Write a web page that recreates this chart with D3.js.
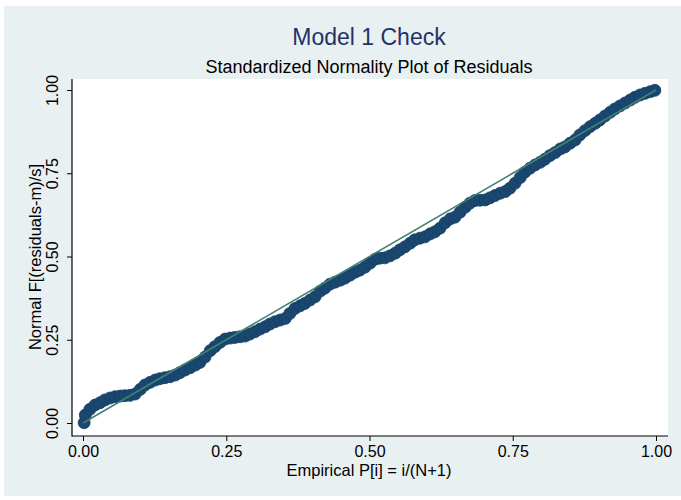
<!DOCTYPE html>
<html>
<head>
<meta charset="utf-8">
<script src="https://cdn.jsdelivr.net/npm/d3@7"></script>
<style>
  body { margin: 0; background: #ffffff; }
  text { font-family: "Liberation Sans", Arial, sans-serif; }
</style>
</head>
<body>
<script>
// empirical P[i] = i/(N+1)
var empP = [0.002,0.004,0.012,0.021,0.030,0.038,0.047,0.056,0.065,0.073,0.082,0.091,0.100,0.108,0.117,0.126,0.134,0.143,0.152,0.161,
            0.169,0.178,0.187,0.196,0.204,0.213,0.222,0.230,0.239,0.248,0.257,0.265,0.274,0.283,0.291,0.300,0.309,0.318,0.326,0.335,
            0.344,0.353,0.361,0.370,0.379,0.387,0.396,0.405,0.414,0.422,0.431,0.440,0.449,0.457,0.466,0.475,0.483,0.492,0.501,0.510,
            0.518,0.527,0.536,0.545,0.553,0.562,0.571,0.579,0.588,0.597,0.606,0.614,0.623,0.632,0.641,0.649,0.658,0.667,0.675,0.684,
            0.693,0.702,0.710,0.719,0.728,0.737,0.745,0.754,0.763,0.771,0.780,0.789,0.798,0.806,0.815,0.824,0.833,0.841,0.850,0.859,
            0.867,0.876,0.885,0.894,0.902,0.911,0.920,0.928,0.937,0.946,0.955,0.963,0.972,0.981,0.990,0.998];
// Normal F[(residuals-m)/s]
var normF = [0.001,0.024,0.041,0.054,0.061,0.069,0.075,0.079,0.081,0.082,0.083,0.087,0.101,0.114,0.122,0.129,0.133,0.136,0.139,0.144,
             0.151,0.159,0.166,0.174,0.182,0.198,0.217,0.229,0.242,0.252,0.255,0.257,0.259,0.261,0.267,0.274,0.282,0.289,0.297,0.304,
             0.309,0.314,0.329,0.344,0.352,0.359,0.369,0.379,0.396,0.405,0.417,0.423,0.429,0.435,0.444,0.453,0.459,0.468,0.480,0.492,
             0.495,0.496,0.502,0.510,0.520,0.529,0.540,0.550,0.555,0.559,0.568,0.574,0.585,0.601,0.613,0.618,0.633,0.648,0.660,0.668,
             0.669,0.670,0.676,0.683,0.690,0.695,0.705,0.720,0.737,0.753,0.765,0.775,0.783,0.792,0.803,0.812,0.823,0.829,0.840,0.850,
             0.865,0.878,0.890,0.900,0.910,0.922,0.933,0.943,0.952,0.961,0.970,0.978,0.985,0.990,0.995,0.999];
var tickVals = [0, 0.25, 0.5, 0.75, 1];

var width = 681, height = 500;
var plot = {left: 72, right: 668, top: 79, bottom: 436};

var svg = d3.select("body").append("svg")
    .attr("width", width)
    .attr("height", height);

// graph region + plot region
svg.append("rect").attr("x", 4).attr("y", 6).attr("width", 677).attr("height", 490).attr("fill", "#e8f0f2");
svg.append("rect").attr("x", plot.left).attr("y", plot.top)
    .attr("width", plot.right - plot.left).attr("height", plot.bottom - plot.top)
    .attr("fill", "#ffffff");

var x = d3.scaleLinear().domain([0, 1]).range([83, 656]);
var y = d3.scaleLinear().domain([0, 1]).range([423, 90]);

var fmt = d3.format(".2f");

// y axis, labels turned upright along the axis
var yAxis = d3.axisLeft(y).tickValues(tickVals).tickFormat(fmt).tickSize(5).tickSizeOuter(0);
var gy = svg.append("g").attr("transform", "translate(" + plot.left + ",0)").call(yAxis);
gy.select(".domain").remove();
gy.selectAll("text")
    .attr("transform", "rotate(-90)")
    .attr("x", 0)
    .attr("y", -14)
    .attr("dy", 0)
    .attr("text-anchor", "middle")
    .style("font-size", "16px")
    .attr("fill", "#000");
gy.selectAll("line").attr("stroke", "#000");

// x axis
var xAxis = d3.axisBottom(x).tickValues(tickVals).tickFormat(fmt).tickSize(5).tickSizeOuter(0).tickPadding(5);
var gx = svg.append("g").attr("transform", "translate(0," + plot.bottom + ")").call(xAxis);
gx.select(".domain").remove();
gx.selectAll("text").style("font-size", "16px").attr("fill", "#000");
gx.selectAll("line").attr("stroke", "#000");

// axis lines
svg.append("line").attr("x1", plot.left).attr("x2", plot.left).attr("y1", plot.top).attr("y2", plot.bottom + 0.5)
    .attr("stroke", "#000").attr("stroke-width", 1.2);
svg.append("line").attr("x1", plot.left).attr("x2", plot.right).attr("y1", plot.bottom).attr("y2", plot.bottom)
    .attr("stroke", "#000").attr("stroke-width", 1.2);

// points
var pts = empP.map(function(d, i){ return [d, normF[i]]; });
svg.append("g").selectAll("circle")
    .data(pts)
    .enter().append("circle")
    .attr("cx", function(d){ return x(d[0]); })
    .attr("cy", function(d){ return y(d[1]); })
    .attr("r", 6)
    .attr("fill", "#1a476f")
    .attr("stroke", "#173f63")
    .attr("stroke-width", 0.8);

// reference line
svg.append("line")
    .attr("x1", x(0)).attr("y1", y(0))
    .attr("x2", x(1)).attr("y2", y(1))
    .attr("stroke", "#3f8270").attr("stroke-width", 1.6);

// titles
svg.append("text").attr("x", 369).attr("y", 45).attr("text-anchor", "middle")
    .style("font-size", "23px").attr("fill", "#1f3366").text("Model 1 Check");
svg.append("text").attr("x", 369).attr("y", 73).attr("text-anchor", "middle")
    .style("font-size", "18px").attr("fill", "#000").text("Standardized Normality Plot of Residuals");
svg.append("text").attr("x", 369).attr("y", 476).attr("text-anchor", "middle")
    .style("font-size", "16.5px").attr("fill", "#000").text("Empirical P[i] = i/(N+1)");
svg.append("text").attr("transform", "translate(41,257) rotate(-90)").attr("text-anchor", "middle")
    .style("font-size", "16.5px").attr("fill", "#000").text("Normal F[(residuals-m)/s]");
</script>
</body>
</html>
